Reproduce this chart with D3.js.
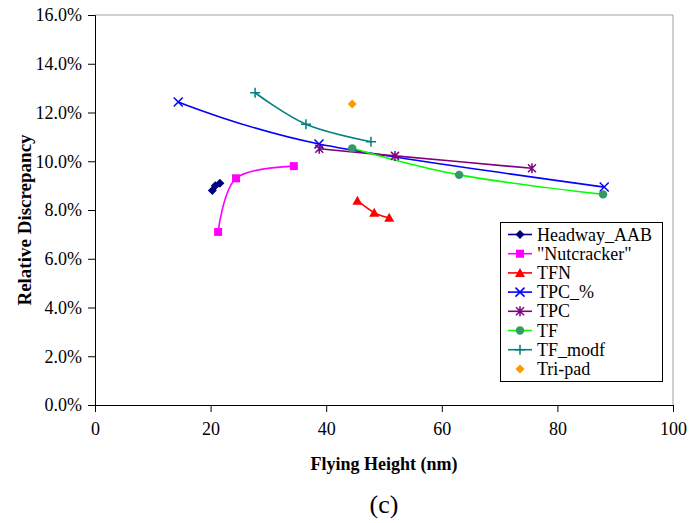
<!DOCTYPE html>
<html><head><meta charset="utf-8">
<script src="https://cdn.jsdelivr.net/npm/d3@7"></script>
<style>body{margin:0;background:#fff}svg{display:block}svg text{font-family:"Liberation Serif","Times New Roman","DejaVu Serif",serif !important;fill:#000}</style>
</head><body><svg id="c" width="690" height="523"></svg>
<script>
const xTicks = [0, 20, 40, 60, 80, 100];
const yTicks = [0, 0.02, 0.04, 0.06, 0.08, 0.10, 0.12, 0.14, 0.16];
const seriesNames = ["Headway_AAB", "\"Nutcracker\"", "TFN", "TPC_%", "TPC", "TF", "TF_modf", "Tri-pad"];
const headwayAAB = [[20.3, 0.088], [20.8, 0.090], [21.6, 0.091]];
const nutcracker = [[21.3, 0.071], [24.4, 0.093], [34.4, 0.098]];
const tfn = [[45.4, 0.0838], [48.3, 0.0789], [50.9, 0.0768]];
const tpcPct = [[14.4, 0.1243], [38.75, 0.1071], [88.1, 0.0894]];
const tpc = [[38.8, 0.1051], [51.9, 0.1022], [75.6, 0.0971]];
const tf = [[44.5, 0.1053], [63.0, 0.0944], [87.9, 0.0864]];
const tfModf = [[27.7, 0.1281], [36.5, 0.1152], [47.75, 0.1080]];
const triPad = [[44.5, 0.1235]];

const FONT = '"Liberation Serif", "Times New Roman", serif';
const svg = d3.select("#c");
const L = 95, R = 673, T = 15, B = 405;
const x = d3.scaleLinear().domain([0, 100]).range([L, R]);
const y = d3.scaleLinear().domain([0, 0.16]).range([B, T]);

svg.append("path").attr("d", `M${L},${T}H${R}V${B}`).attr("fill", "none").attr("stroke", "#a0a0a0").attr("stroke-width", 1);

const gx = svg.append("g").attr("transform", `translate(0,${B})`)
  .call(d3.axisBottom(x).tickValues(xTicks).tickSize(7).tickPadding(10).tickFormat(d3.format("d")));
const gy = svg.append("g").attr("transform", `translate(${L},0)`)
  .call(d3.axisLeft(y).tickValues(yTicks).tickSize(7).tickPadding(6).tickFormat(d3.format(".1%")));
[gx, gy].forEach(g => {
  g.attr("font-family", FONT).attr("font-size", 18);
  g.select(".domain").attr("stroke", "#000");
  g.selectAll(".tick line").attr("stroke", "#000");
  g.selectAll("text").attr("font-family", FONT).attr("font-size", 18);
});

const line = d3.line().x(d => x(d[0])).y(d => y(d[1])).curve(d3.curveCardinal.tension(0));

const series = [
  {data: headwayAAB, line: "#000080", mk: "#000080", sym: "diamond"},
  {data: nutcracker, line: "#FF00FF", mk: "#FF00FF", sym: "square"},
  {data: tfn, line: "#FF0000", mk: "#FF0000", sym: "triangle"},
  {data: tpcPct, line: "#0000FF", mk: "#0000FF", sym: "x"},
  {data: tpc, line: "#800080", mk: "#800080", sym: "star"},
  {data: tf, line: "#00FF00", mk: "#339966", sym: "circle"},
  {data: tfModf, line: "#008080", mk: "#008080", sym: "plus"},
  {data: triPad, line: null, mk: "#FF9900", sym: "diamond"}
];

function marker(g, sym, color, cx, cy) {
  if (sym === "diamond") {
    g.append("path").attr("d", `M${cx},${cy-4.5}L${cx+4.5},${cy}L${cx},${cy+4.5}L${cx-4.5},${cy}Z`).attr("fill", color);
  } else if (sym === "square") {
    g.append("rect").attr("x", cx-4).attr("y", cy-4).attr("width", 8).attr("height", 8).attr("fill", color);
  } else if (sym === "triangle") {
    g.append("path").attr("d", `M${cx},${cy-5}L${cx+5},${cy+4}L${cx-5},${cy+4}Z`).attr("fill", color);
  } else if (sym === "circle") {
    g.append("circle").attr("cx", cx).attr("cy", cy).attr("r", 4.2).attr("fill", color);
  } else if (sym === "x") {
    g.append("path").attr("d", `M${cx-4.5},${cy-4.5}L${cx+4.5},${cy+4.5}M${cx+4.5},${cy-4.5}L${cx-4.5},${cy+4.5}`).attr("stroke", color).attr("stroke-width", 1.5);
  } else if (sym === "star") {
    g.append("path").attr("d", `M${cx-4},${cy-4}L${cx+4},${cy+4}M${cx+4},${cy-4}L${cx-4},${cy+4}M${cx},${cy-5}V${cy+5}`).attr("stroke", color).attr("stroke-width", 1.5);
  } else if (sym === "plus") {
    g.append("path").attr("d", `M${cx-5},${cy}H${cx+5}M${cx},${cy-5}V${cy+5}`).attr("stroke", color).attr("stroke-width", 1.5);
  }
}

const plot = svg.append("g");
series.forEach(s => {
  if (s.line) plot.append("path").attr("d", line(s.data)).attr("fill", "none").attr("stroke", s.line).attr("stroke-width", 1.6);
});
series.forEach(s => {
  s.data.forEach(d => marker(plot, s.sym, s.mk, x(d[0]), y(d[1])));
});

const lg = svg.append("g");
lg.append("rect").attr("x", 500.5).attr("y", 222.5).attr("width", 162).attr("height", 159).attr("fill", "#fff").attr("stroke", "#000");
series.forEach((s, i) => {
  const cy = 234.5 + i * 19.2;
  if (s.line) lg.append("line").attr("x1", 508).attr("x2", 532).attr("y1", cy).attr("y2", cy).attr("stroke", s.line).attr("stroke-width", 1.6);
  marker(lg, s.sym, s.mk, 520, cy);
  lg.append("text").attr("x", 537).attr("y", cy + 6).attr("font-family", FONT).attr("font-size", 18).text(seriesNames[i]);
});

svg.append("text").attr("x", (L + R) / 2).attr("y", 470).attr("text-anchor", "middle")
  .attr("font-family", FONT).attr("font-size", 18).attr("font-weight", "bold").text("Flying Height (nm)");
svg.append("text").attr("transform", `translate(31,${(T + B) / 2 + 10}) rotate(-90)`).attr("text-anchor", "middle")
  .attr("font-family", FONT).attr("font-size", 19).attr("font-weight", "bold").text("Relative Discrepancy");
svg.append("text").attr("x", 384).attr("y", 513).attr("text-anchor", "middle")
  .attr("font-family", FONT).attr("font-size", 26).text("(c)");
</script></body></html>
